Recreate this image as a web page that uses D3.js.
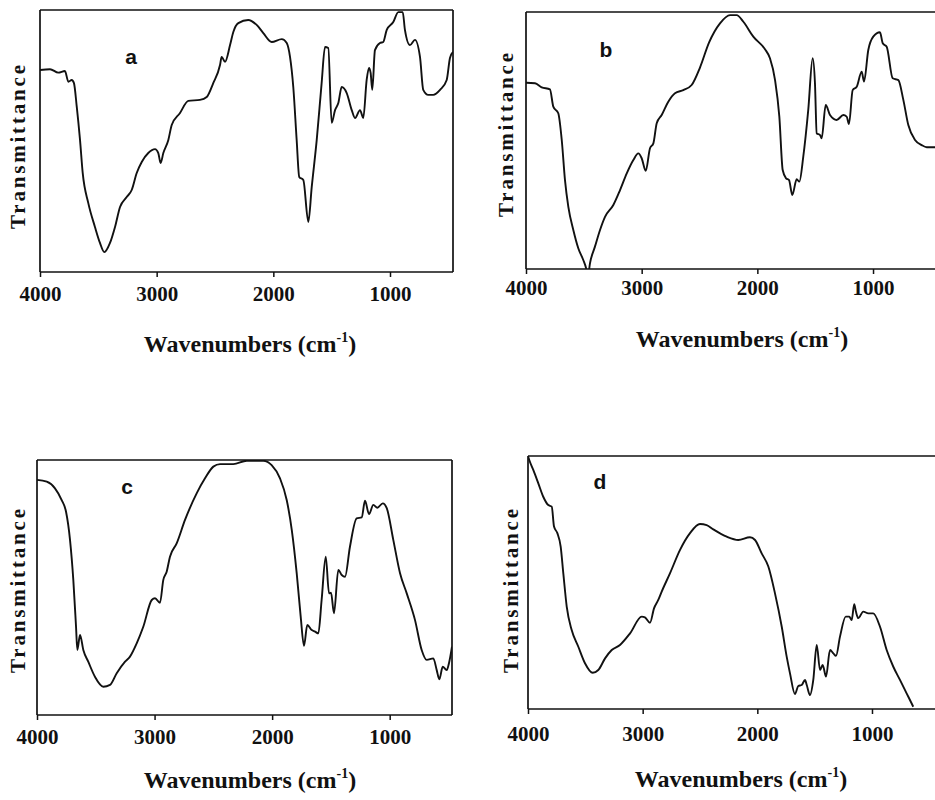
<!DOCTYPE html>
<html>
<head>
<meta charset="utf-8">
<script src="https://cdn.jsdelivr.net/npm/d3@7"></script>
<style>
  html, body { margin: 0; padding: 0; background: #fff; }
  svg { display: block; }
</style>
</head>
<body>
<svg id="chart" width="935" height="800"></svg>
<script>
// ---------- DATA ----------
const tickValues = [4000, 3000, 2000, 1000];
const panelLabels = ["a", "b", "c", "d"];
const xTitle = "Wavenumbers (cm";
const xTitleSup = "-1";
const yTitle = "Transmittance";

const waveA = [4000, 3914, 3843, 3786, 3757, 3728, 3709, 3685, 3657, 3634, 3586, 3529, 3486, 3449, 3400, 3357, 3314, 3257, 3214, 3171, 3128, 3072, 3014, 2986, 2966, 2943, 2900, 2871, 2800, 2729, 2629, 2571, 2515, 2457, 2443, 2414, 2371, 2343, 2300, 2215, 2143, 2086, 2014, 1928, 1885, 1857, 1829, 1800, 1778, 1743, 1700, 1671, 1628, 1586, 1557, 1529, 1500, 1471, 1443, 1414, 1371, 1328, 1300, 1257, 1229, 1200, 1180, 1166, 1152, 1129, 1086, 1058, 1028, 972, 929, 891, 872, 829, 786, 743, 715, 672, 629, 571, 514, 486, 460];
const transA = [77.1, 77.4, 76.1, 76.7, 72.6, 73.3, 72.1, 63.1, 50.4, 37.8, 26.3, 17.2, 11.1, 7.6, 11.1, 17.2, 24.8, 28.6, 31.3, 37.8, 42.0, 45.4, 46.9, 45.4, 41.6, 45.4, 50.4, 56.1, 60.7, 65.3, 65.7, 66.8, 72.1, 79.0, 82.1, 80.2, 86.6, 91.6, 95.0, 96.2, 94.3, 91.2, 87.8, 88.9, 87.4, 82.1, 70.6, 50.4, 36.3, 35.1, 19.1, 32.4, 50.4, 72.1, 85.9, 85.5, 56.9, 61.8, 64.5, 70.6, 68.3, 61.8, 58.8, 61.8, 58.8, 73.3, 77.9, 76.0, 69.5, 84.7, 87.4, 87.8, 92.4, 95.4, 99.2, 99.2, 92.4, 86.6, 88.6, 82.1, 69.5, 67.6, 67.6, 69.5, 73.3, 81.7, 84.0];

const waveB = [4000, 3994, 3922, 3864, 3793, 3764, 3721, 3691, 3663, 3634, 3591, 3548, 3505, 3481, 3465, 3447, 3404, 3360, 3317, 3245, 3187, 3129, 3072, 3029, 3000, 2965, 2928, 2899, 2870, 2827, 2770, 2712, 2640, 2568, 2496, 2418, 2323, 2236, 2179, 2121, 2035, 1934, 1891, 1847, 1810, 1781, 1752, 1726, 1698, 1660, 1637, 1603, 1560, 1522, 1502, 1487, 1458, 1444, 1409, 1372, 1314, 1257, 1228, 1208, 1176, 1141, 1098, 1078, 1041, 998, 940, 916, 882, 830, 781, 738, 695, 637, 579, 536, 464];
const transB = [72.5, 72.5, 72.3, 70.7, 69.9, 63.2, 60.6, 50.2, 34.6, 24.2, 15.2, 8.1, 3.5, 0.4, -3, 2.2, 8.7, 15.2, 20.3, 24.9, 30.7, 37.2, 42.4, 45.0, 43.1, 38.2, 47.0, 48.9, 56.7, 59.9, 65.1, 68.4, 69.6, 71.6, 78.4, 88.1, 95.6, 98.8, 98.8, 96.2, 90.4, 85.5, 82.0, 73.5, 59.3, 38.5, 35.3, 34.6, 28.8, 34.9, 34.0, 43.7, 61.9, 82.0, 72.3, 52.8, 52.1, 50.9, 63.8, 59.9, 58.0, 59.9, 59.3, 56.4, 69.6, 70.9, 76.8, 72.9, 85.2, 90.4, 92.1, 87.8, 86.5, 74.2, 73.5, 65.8, 56.0, 50.2, 48.2, 47.4, 47.4];

const waveC = [4000, 3917, 3847, 3790, 3753, 3719, 3691, 3668, 3657, 3634, 3606, 3564, 3507, 3436, 3379, 3322, 3251, 3209, 3152, 3096, 3024, 2996, 2954, 2926, 2897, 2869, 2812, 2741, 2642, 2571, 2500, 2443, 2330, 2216, 2075, 2004, 1933, 1876, 1833, 1791, 1757, 1729, 1701, 1663, 1635, 1607, 1579, 1544, 1516, 1499, 1474, 1437, 1408, 1380, 1338, 1281, 1238, 1210, 1176, 1139, 1105, 1059, 1025, 969, 912, 855, 785, 728, 685, 629, 600, 578, 549, 515, 493, 470];
const transC = [92.2, 91.5, 88.9, 84.3, 79.7, 68.6, 52.9, 34.6, 25.5, 31.4, 25.5, 20.9, 15.0, 11.1, 11.8, 16.4, 20.9, 22.9, 28.1, 34.6, 45.1, 45.8, 44.0, 52.9, 56.2, 62.1, 67.3, 76.5, 86.9, 92.8, 97.4, 98.4, 98.4, 99.7, 99.7, 98.0, 92.8, 84.3, 72.6, 55.6, 38.6, 27.1, 35.3, 33.3, 32.7, 32.0, 45.1, 62.1, 47.7, 48.0, 39.9, 56.9, 54.9, 54.2, 66.0, 77.1, 77.5, 84.0, 78.8, 82.4, 81.3, 83.0, 81.1, 68.6, 55.6, 47.7, 37.3, 25.5, 21.6, 22.2, 17.6, 14.0, 18.9, 17.6, 20.9, 26.8];

const waveD = [4000, 3989, 3954, 3910, 3867, 3823, 3793, 3773, 3744, 3715, 3692, 3662, 3619, 3561, 3503, 3436, 3387, 3328, 3270, 3198, 3110, 3008, 2980, 2936, 2901, 2864, 2834, 2762, 2674, 2587, 2500, 2442, 2384, 2267, 2166, 2064, 2020, 1962, 1904, 1846, 1787, 1744, 1715, 1672, 1643, 1613, 1584, 1569, 1541, 1512, 1482, 1453, 1430, 1401, 1366, 1337, 1314, 1279, 1229, 1198, 1177, 1155, 1140, 1120, 1076, 1032, 989, 930, 872, 814, 756, 698, 640];
const transD = [100, 98.4, 94.5, 89.2, 83.9, 80.6, 80.0, 72.1, 69.5, 64.2, 53.6, 40.4, 31.2, 24.6, 18.1, 14.3, 15.4, 20.0, 23.3, 25.3, 29.9, 36.5, 36.2, 34.1, 39.8, 43.1, 46.4, 53.6, 62.9, 69.5, 73.1, 72.7, 71.0, 68.1, 66.8, 67.9, 66.8, 61.5, 56.3, 45.7, 32.5, 20.7, 14.1, 5.9, 9.1, 9.5, 11.5, 9.5, 5.5, 11.5, 25.3, 15.4, 17.4, 12.8, 23.3, 22.0, 21.0, 28.6, 36.5, 36.5, 35.2, 41.4, 38.5, 35.9, 38.5, 37.8, 37.8, 32.5, 23.3, 16.7, 11.5, 6.2, 0.9];

// ---------- LAYOUT ----------
const layout = [
  {wave: waveA, trans: transA, left: 40,  right: 453, top: 10,  bottom: 272, wEnd: 460, rightBorder: true,
   labX: 131, labY: 64, tickY: 29, xtX: 250, xtY: 352, ytX: 25,  ytY: 147},
  {wave: waveB, trans: transB, left: 526, right: 937, top: 12,  bottom: 269, wEnd: 447, rightBorder: false,
   labX: 606, labY: 57, tickY: 26, xtX: 742, xtY: 347, ytX: 513, ytY: 135},
  {wave: waveC, trans: transC, left: 37,  right: 452, top: 460, bottom: 715, wEnd: 470, rightBorder: true,
   labX: 127, labY: 494, tickY: 29, xtX: 250, xtY: 788, ytX: 25,  ytY: 591},
  {wave: waveD, trans: transD, left: 528, right: 937, top: 456, bottom: 709, wEnd: 433, rightBorder: false,
   labX: 600, labY: 489, tickY: 32, xtX: 741, xtY: 787, ytX: 518, ytY: 591}
];

const svg = d3.select("#chart");
const ink = "#111";
const serif = "Liberation Serif, Times New Roman, serif";
const sans = "Liberation Sans, Arial, sans-serif";

layout.forEach((p, i) => {
  const x = d3.scaleLinear().domain([4000, p.wEnd]).range([p.left, p.right]);
  const y = d3.scaleLinear().domain([0, 100]).range([p.bottom, p.top]);
  const g = svg.append("g");

  const clipId = "clip" + i;
  svg.append("clipPath").attr("id", clipId)
    .append("rect").attr("x", p.left).attr("y", p.top)
    .attr("width", p.right - p.left).attr("height", p.bottom - p.top);

  // frame
  const frame = g.append("g").attr("stroke", ink).attr("stroke-width", 1.7).attr("fill", "none");
  frame.append("line").attr("x1", p.left).attr("x2", p.right).attr("y1", p.top).attr("y2", p.top);
  frame.append("line").attr("x1", p.left).attr("x2", p.right).attr("y1", p.bottom).attr("y2", p.bottom);
  frame.append("line").attr("x1", p.left).attr("x2", p.left).attr("y1", p.top).attr("y2", p.bottom);
  if (p.rightBorder) {
    frame.append("line").attr("x1", p.right).attr("x2", p.right).attr("y1", p.top).attr("y2", p.bottom);
  }

  // axis
  const axis = d3.axisBottom(x).tickValues(tickValues).tickSize(5).tickFormat(d3.format("d"));
  const ag = g.append("g").attr("transform", `translate(0,${p.bottom})`).call(axis)
    .attr("font-family", serif).attr("font-size", 21).attr("font-weight", "bold");
  ag.select(".domain").remove();
  ag.selectAll(".tick line").attr("stroke", ink).attr("stroke-width", 1.5);
  ag.selectAll(".tick text")
    .attr("dy", null).attr("y", p.tickY)
    .attr("fill", ink)
    .attr("font-family", serif).attr("font-weight", "bold").attr("font-size", 21);

  // spectrum
  const pts = p.wave.map((w, k) => [w, p.trans[k]]);
  const line = d3.line().x(d => x(d[0])).y(d => y(d[1])).curve(d3.curveMonotoneX);
  g.append("path").datum(pts)
    .attr("clip-path", `url(#${clipId})`)
    .attr("d", line)
    .attr("fill", "none").attr("stroke", ink).attr("stroke-width", 1.9)
    .attr("stroke-linejoin", "round");

  // panel letter
  g.append("text").attr("x", p.labX).attr("y", p.labY)
    .attr("text-anchor", "middle").attr("fill", ink)
    .attr("font-family", sans).attr("font-weight", "bold").attr("font-size", 21)
    .text(panelLabels[i]);

  // y title
  g.append("text")
    .attr("transform", `translate(${p.ytX},${p.ytY}) rotate(-90)`)
    .attr("text-anchor", "middle").attr("fill", ink)
    .attr("textLength", 164).attr("lengthAdjust", "spacing")
    .attr("font-family", serif).attr("font-weight", "bold").attr("font-size", 21)
    .text(yTitle);

  // x title
  const xt = g.append("text").attr("x", p.xtX).attr("y", p.xtY)
    .attr("text-anchor", "middle").attr("fill", ink)
    .attr("font-family", serif).attr("font-weight", "bold").attr("font-size", 24);
  xt.append("tspan").text(xTitle);
  xt.append("tspan").attr("dy", -10).attr("font-size", 14).text(xTitleSup);
  xt.append("tspan").attr("dy", 10).text(")");
});
</script>
</body>
</html>
